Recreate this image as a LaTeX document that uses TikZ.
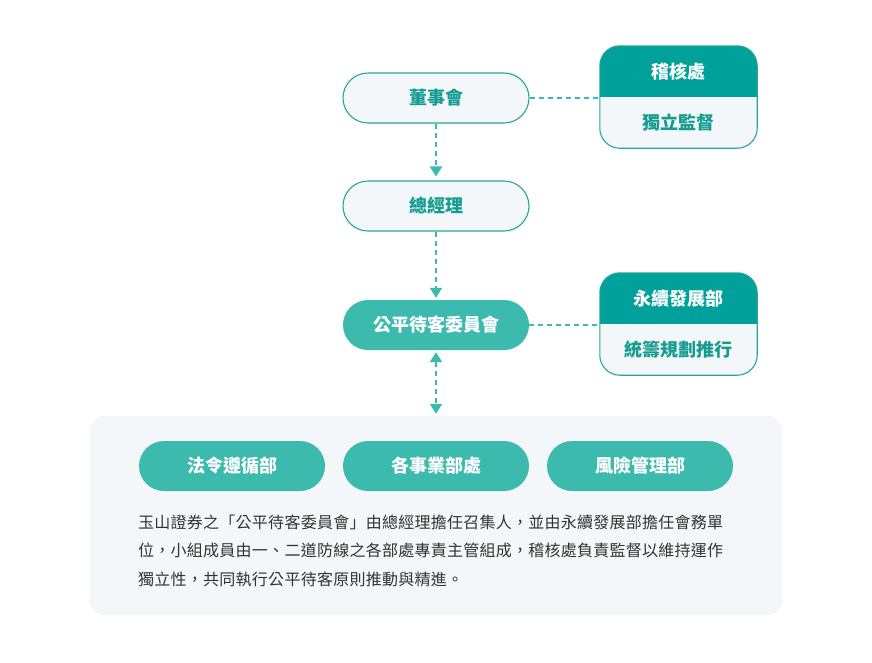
\documentclass[tikz,border=0pt]{standalone}
\usepackage{fontspec}
\usetikzlibrary{arrows.meta,calc}
\newfontfamily\cjk{Noto Sans CJK TC}
\newfontfamily\cjkpara{Noto Sans CJK TC}[LetterSpace=1.6]
\definecolor{hdr}{HTML}{00A19A}
\definecolor{pillfill}{HTML}{3DBAAE}
\definecolor{bordc}{HTML}{26A69A}
\definecolor{tealtxt}{HTML}{149C91}
\definecolor{lightbg}{HTML}{F4F7FA}
\definecolor{paratxt}{HTML}{333333}
\tikzset{
  pill/.style={rounded corners=25pt, minimum width=186pt, minimum height=50pt, inner sep=0pt,
    font=\cjk\bfseries\fontsize{18}{21}\selectfont},
  lightpill/.style={pill, draw=bordc, line width=1.1pt, fill=lightbg, text=tealtxt},
  darkpill/.style={pill, fill=pillfill, text=white},
  sidebox/.style={rectangle, rounded corners=20pt, minimum width=157pt, minimum height=102pt, inner sep=0pt},
  hdrtext/.style={font=\cjk\bfseries\fontsize{18}{21}\selectfont, text=white, inner sep=0pt},
  bodytext/.style={font=\cjk\bfseries\fontsize{18}{21}\selectfont, text=tealtxt, inner sep=0pt},
  dashlink/.style={draw=pillfill, line width=2pt, dash pattern=on 5pt off 4pt},
  flow/.style={dashlink, -{Triangle[width=12pt,length=10pt]}},
  flowboth/.style={dashlink, {Triangle[width=12pt,length=10pt]}-{Triangle[width=12pt,length=10pt]}},
}
\begin{document}
\begin{tikzpicture}[x=1pt,y=-1pt]
\useasboundingbox[fill=white] (0,0) rectangle (872,662);

% panel
\node[rectangle, rounded corners=14pt, fill=lightbg, minimum width=692pt, minimum height=199pt, inner sep=0pt] (panel) at (436,515.5) {};

% main column
\node[lightpill] (board) at (436,98) {董事會};
\node[lightpill] (gm) at (436,206) {總經理};
\node[darkpill] (comm) at (436,325) {公平待客委員會};

% side boxes
\node[sidebox] (audit) at (678.5,97) {};
\begin{scope}
  \clip[rounded corners=20pt] (audit.south west) rectangle (audit.north east);
  \fill[lightbg] (audit.south west) rectangle (audit.north east);
  \fill[hdr] (audit.north west) rectangle (audit.east);
\end{scope}
\draw[bordc, line width=1.1pt, rounded corners=20pt] (audit.south west) rectangle (audit.north east);
\node[hdrtext] (auditT) at ($(audit.north)!0.5!(audit.center)$) {稽核處};
\node[bodytext] (auditB) at ($(audit.south)!0.5!(audit.center)$) {獨立監督};

\node[sidebox] (sust) at (678.5,324) {};
\begin{scope}
  \clip[rounded corners=20pt] (sust.south west) rectangle (sust.north east);
  \fill[lightbg] (sust.south west) rectangle (sust.north east);
  \fill[hdr] (sust.north west) rectangle (sust.east);
\end{scope}
\draw[bordc, line width=1.1pt, rounded corners=20pt] (sust.south west) rectangle (sust.north east);
\node[hdrtext] (sustT) at ($(sust.north)!0.5!(sust.center)$) {永續發展部};
\node[bodytext] (sustB) at ($(sust.south)!0.5!(sust.center)$) {統籌規劃推行};

% bottom pills
\node[darkpill] (legal) at (232,466) {法令遵循部};
\node[darkpill] (biz) at (436,466) {各事業部處};
\node[darkpill] (risk) at (640,466) {風險管理部};

% paragraph
\node[anchor=west, align=left, inner sep=0pt, text=paratxt,
  font=\cjkpara\fontsize{16}{28.5}\selectfont] (para) at (138,550.5)
  {玉山證券之「公平待客委員會」由總經理擔任召集人，並由永續發展部擔任會務單\\
   位，小組成員由一、二道防線之各部處專責主管組成，稽核處負責監督以維持運作\\
   獨立性，共同執行公平待客原則推動與精進。};

% connectors
\draw[dashlink] (board.east) -- (audit.west |- board.east);
\draw[dashlink] (comm.east) -- (sust.west |- comm.east);
\draw[flow, shorten >=4pt] (board.south) -- (gm.north);
\draw[flow, shorten >=2pt] (gm.south) -- (comm.north);
\draw[flowboth, shorten <=2pt, shorten >=2pt] (comm.south) -- (panel.north);
\end{tikzpicture}
\end{document}
